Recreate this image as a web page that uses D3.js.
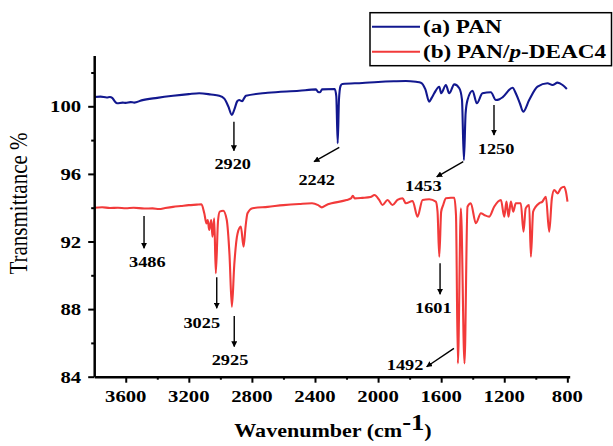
<!DOCTYPE html>
<html>
<head>
<meta charset="utf-8">
<script src="https://cdn.jsdelivr.net/npm/d3@7"></script>
<style>
  body { margin: 0; background: #fff; }
  svg { display: block; background: #fff; }
  text { font-family: "Liberation Serif", "Times New Roman", serif; fill: #000; }
</style>
</head>
<body>
<svg id="chart" width="613" height="446"></svg>
<script>
// FTIR spectra: [wavenumber (cm-1), transmittance %]
const panSpectrum = [
  [3800, 100.55], [3760, 100.57], [3720, 100.52], [3700, 100.55], [3686, 100.5],
  [3670, 100.3], [3654, 100.18], [3620, 100.22], [3600, 100.2], [3570, 100.25],
  [3546, 100.22], [3500, 100.35], [3400, 100.5], [3300, 100.62], [3200, 100.72],
  [3134, 100.77], [3060, 100.7], [3007, 100.63], [2975, 100.45], [2950, 100.0],
  [2927, 99.49], [2910, 99.85], [2893, 100.3], [2881, 100.37], [2862, 100.3],
  [2848, 100.5], [2838, 100.62], [2700, 100.8], [2500, 100.92], [2394, 101.0],
  [2380, 100.85], [2368, 100.83], [2355, 101.0], [2275, 101.02], [2265, 100.6],
  [2256, 97.81], [2248, 100.4], [2238, 101.2], [2227, 101.32], [2100, 101.38],
  [2000, 101.44], [1900, 101.48], [1824, 101.5], [1760, 101.45], [1729, 101.4],
  [1700, 101.0], [1676, 100.27], [1660, 100.5], [1644, 100.77], [1612, 101.16],
  [1600, 100.77], [1570, 101.26], [1549, 100.77], [1517, 101.3], [1485, 101.07],
  [1468, 100.4], [1456, 96.82], [1445, 99.6], [1433, 100.37], [1401, 100.92],
  [1374, 100.18], [1338, 100.77], [1285, 100.83], [1253, 100.37], [1230, 100.42],
  [1211, 100.53], [1147, 101.1], [1127, 100.77], [1100, 100.15], [1080, 99.68],
  [1042, 100.37], [989, 101.16], [926, 101.36], [894, 101.26], [862, 101.4],
  [830, 101.26], [803, 101.03]
];

const blendSpectrum = [
  [3800, 94.0], [3750, 94.03], [3700, 93.98], [3650, 94.0], [3600, 93.97],
  [3550, 94.0], [3483, 93.95], [3430, 93.96], [3388, 93.92], [3350, 93.98],
  [3300, 94.05], [3250, 94.1], [3200, 94.15], [3150, 94.18], [3120, 94.2],
  [3102, 93.67], [3088, 93.07], [3080, 93.27], [3071, 92.68], [3058, 93.27],
  [3050, 92.28], [3039, 93.37], [3029, 90.12], [3015, 93.2], [3004, 93.77],
  [2982, 93.82], [2960, 93.3], [2942, 91.2], [2927, 88.14], [2912, 90.6],
  [2891, 92.48], [2870, 92.88], [2853, 91.69], [2840, 92.9], [2828, 93.67],
  [2796, 93.97], [2700, 94.05], [2600, 94.15], [2500, 94.22], [2419, 94.26],
  [2380, 94.15], [2357, 94.02], [2330, 94.15], [2295, 94.26], [2200, 94.45],
  [2172, 94.55], [2160, 94.7], [2148, 94.55], [2100, 94.58], [2048, 94.63],
  [2023, 94.75], [1993, 94.46], [1972, 94.16], [1940, 94.46], [1909, 94.16],
  [1877, 94.46], [1845, 94.56], [1824, 94.26], [1781, 94.4], [1750, 93.47],
  [1718, 94.46], [1676, 94.5], [1634, 94.36], [1623, 93.76], [1612, 91.1],
  [1600, 93.76], [1587, 94.16], [1570, 94.56], [1538, 94.59], [1517, 94.59],
  [1506, 93.57], [1494, 84.79], [1475, 93.96], [1452, 84.79], [1433, 94.06],
  [1412, 94.26], [1380, 93.08], [1348, 93.67], [1327, 93.57], [1295, 93.47],
  [1264, 94.06], [1221, 94.46], [1200, 93.47], [1186, 94.36], [1173, 93.47],
  [1158, 94.36], [1143, 93.76], [1127, 94.26], [1095, 94.26], [1078, 92.58],
  [1064, 93.96], [1042, 94.16], [1031, 91.1], [1017, 93.76], [1000, 94.06],
  [979, 94.26], [958, 94.36], [936, 94.65], [915, 92.58], [898, 94.56],
  [883, 95.05], [862, 94.85], [841, 95.15], [820, 95.24], [809, 94.95],
  [799, 94.36]
];

const seriesNames = ["(a) PAN", "(b) PAN/p-DEAC4"];
const seriesColors = ["#12188f", "#f23a3a"];

const xMajorTicks = [3600, 3200, 2800, 2400, 2000, 1600, 1200, 800];
const xMinorTicks = [3400, 3000, 2600, 2200, 1800, 1400, 1000];
const yMajorTicks = [84, 88, 92, 96, 100];
const yMinorTicks = [86, 90, 94, 98, 102];

// Band assignments: arrow tail, arrow head and label anchor, in data units
const bandMarks = [
  { label: "2920", tail: [2914, 99.09], head: [2914, 97.37], text: [2922, 96.27] },
  { label: "2242", tail: [2246, 97.57], head: [2406, 96.72], text: [2389, 95.34] },
  { label: "1453", tail: [1460, 96.72], head: [1628, 95.83], text: [1713, 94.97] },
  { label: "1250", tail: [1265, 100.08], head: [1265, 98.30], text: [1252, 97.16] },
  { label: "3486", tail: [3484, 93.51], head: [3484, 91.60], text: [3463, 90.47] },
  { label: "3025", tail: [3023, 89.88], head: [3023, 88.05], text: [3118, 86.90] },
  { label: "2925", tail: [2912, 87.59], head: [2912, 85.78], text: [2939, 84.69] },
  { label: "1601", tail: [1607, 90.71], head: [1607, 88.88], text: [1650, 87.79] },
  { label: "1492", tail: [1519, 85.68], head: [1692, 84.59], text: [1829, 84.40] }
];

// ---- layout ----
const plot = { left: 94.2, right: 569.7, top: 55.6, bottom: 376.7 };
const STRETCH = 1.22;   // wide serif lettering

const svg = d3.select("#chart");

const x = d3.scaleLinear().domain([3800, 785]).range([plot.left, plot.right]);
const y = d3.scaleLinear().domain([84, 103]).range([plot.bottom, plot.top]);

// horizontally widened text helper
function wideText(g, px, py, str, opts) {
  return g.append("text")
    .attr("transform", `translate(${px},${py}) scale(${STRETCH},1)`)
    .attr("text-anchor", opts.anchor || "middle")
    .attr("font-size", opts.size)
    .attr("font-weight", opts.weight || "bold")
    .text(str);
}

// ---- spectra ----
const line = d3.line()
  .x(d => x(d[0]))
  .y(d => y(d[1]))
  .curve(d3.curveMonotoneX);

[panSpectrum, blendSpectrum].forEach((s, i) => {
  svg.append("path")
    .datum(s)
    .attr("d", line)
    .attr("fill", "none")
    .attr("stroke", seriesColors[i])
    .attr("stroke-width", 2.1)
    .attr("stroke-linejoin", "round");
});

// ---- axes ----
const xAxisG = svg.append("g").attr("transform", `translate(0,${plot.bottom})`);
xAxisG.call(d3.axisBottom(x).tickValues(xMajorTicks).tickSize(6).tickSizeOuter(0).tickFormat(""));
const xMinorG = svg.append("g").attr("transform", `translate(0,${plot.bottom})`);
xMinorG.call(d3.axisBottom(x).tickValues(xMinorTicks).tickSize(3).tickSizeOuter(0).tickFormat(""));
xMinorG.select(".domain").remove();

const yAxisG = svg.append("g").attr("transform", `translate(${plot.left},0)`);
yAxisG.call(d3.axisLeft(y).tickValues(yMajorTicks).tickSize(6).tickSizeOuter(0).tickFormat(""));
const yMinorG = svg.append("g").attr("transform", `translate(${plot.left},0)`);
yMinorG.call(d3.axisLeft(y).tickValues(yMinorTicks).tickSize(3).tickSizeOuter(0).tickFormat(""));
yMinorG.select(".domain").remove();

svg.selectAll(".domain").attr("stroke", "#000").attr("stroke-width", 2.5);
svg.selectAll(".tick line").attr("stroke", "#000").attr("stroke-width", 2);

const labels = svg.append("g");
xMajorTicks.forEach(v => wideText(labels, x(v), plot.bottom + 25.6, String(v), { size: 17 }));
yMajorTicks.forEach(v => wideText(labels, plot.left - 13, y(v) + 6, String(v), { size: 17, anchor: "end" }));

// axis titles
const xt = svg.append("text")
  .attr("transform", `translate(333,437.3) scale(${STRETCH - 0.06},1)`)
  .attr("text-anchor", "middle")
  .attr("font-size", 19)
  .attr("font-weight", "bold");
xt.append("tspan").text("Wavenumber (cm");
xt.append("tspan").attr("font-size", 23).attr("dy", -7).text("-1");
xt.append("tspan").attr("dy", 7).text(")");

svg.append("text")
  .attr("transform", `translate(26.5,203.5) scale(${STRETCH},1) rotate(-90)`)
  .attr("text-anchor", "middle")
  .attr("font-size", 21)
  .text("Transmittance %");

// ---- band annotations ----
svg.append("defs").append("marker")
  .attr("id", "arrowhead")
  .attr("viewBox", "0 0 10 10")
  .attr("refX", 9).attr("refY", 5)
  .attr("markerWidth", 6).attr("markerHeight", 6)
  .attr("markerUnits", "userSpaceOnUse")
  .attr("orient", "auto")
  .append("path")
  .attr("d", "M0,0L10,5L0,10Z")
  .attr("fill", "#000");

const ann = svg.append("g");
bandMarks.forEach(b => {
  ann.append("line")
    .attr("x1", x(b.tail[0])).attr("y1", y(b.tail[1]))
    .attr("x2", x(b.head[0])).attr("y2", y(b.head[1]))
    .attr("stroke", "#000").attr("stroke-width", 1.4)
    .attr("marker-end", "url(#arrowhead)");
  wideText(ann, x(b.text[0]), y(b.text[1]), b.label, { size: 15 });
});

// ---- legend ----
const lg = svg.append("g");
lg.append("rect")
  .attr("x", 370).attr("y", 12.7)
  .attr("width", 241.5).attr("height", 53)
  .attr("fill", "#fff").attr("stroke", "#000").attr("stroke-width", 1.5);

const legendRows = [26.7, 51.7];
legendRows.forEach((ry, i) => {
  lg.append("line")
    .attr("x1", 372).attr("x2", 420).attr("y1", ry).attr("y2", ry)
    .attr("stroke", seriesColors[i]).attr("stroke-width", 2);
  const t = lg.append("text")
    .attr("transform", `translate(423,${ry + 6.6}) scale(${STRETCH},1)`)
    .attr("font-size", 19).attr("font-weight", "bold");
  // italic "p" in the blend name
  const parts = seriesNames[i].split(/(\/p-)/);
  if (parts.length === 1) {
    t.text(seriesNames[i]);
  } else {
    t.append("tspan").text(parts[0] + "/");
    t.append("tspan").attr("font-style", "italic").text("p");
    t.append("tspan").text("-" + parts[2]);
  }
});
</script>
</body>
</html>
